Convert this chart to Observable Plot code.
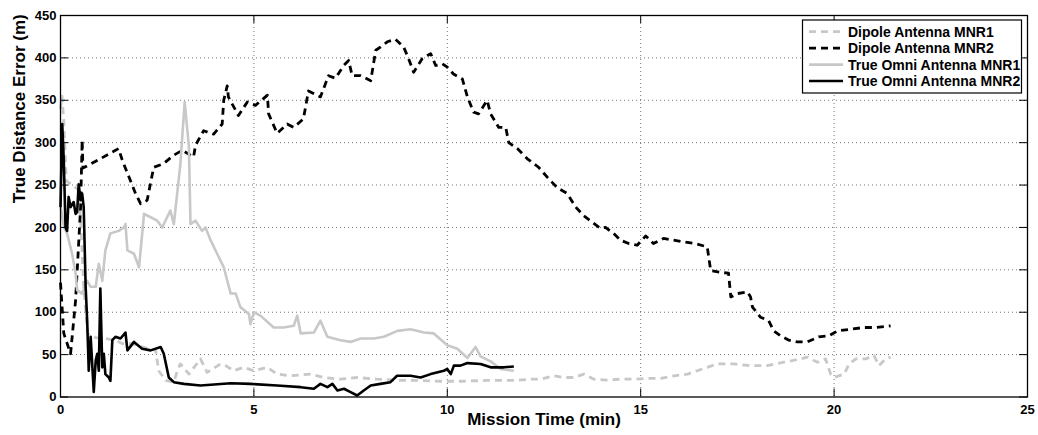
<!DOCTYPE html>
<html><head><meta charset="utf-8">
<script src="https://cdn.jsdelivr.net/npm/d3@7"></script>
<script src="https://cdn.jsdelivr.net/npm/@observablehq/plot@0.6"></script>
<style>html,body{margin:0;padding:0;background:#fff;overflow:hidden}</style>
</head><body><div id="chart"></div>
<script>
// ---- data ----
const xTicks = [0, 5, 10, 15, 20, 25];
const yTicks = [0, 50, 100, 150, 200, 250, 300, 350, 400, 450];
const xLabel = "Mission Time (min)";
const yLabel = "True Distance Error (m)";
const seriesNames = ["Dipole Antenna MNR1", "Dipole Antenna MNR2", "True Omni Antenna MNR1", "True Omni Antenna MNR2"];

const dipoleMNR1Time = [0,0.04,0.09,0.15,0.3,0.45,0.52,0.6,0.7,0.91,1.16,1.42,1.59,1.85,2.11,2.46,2.54,2.72,2.93,3.02,3.10,3.32,3.62,3.79,4.14,4.27,4.48,4.74,5.0,5.35,5.6,5.95,6.47,6.81,7.24,7.67,8.19,8.79,9.23,9.83,10.34,11.03,11.72,12.15,12.41,12.76,13.02,13.27,13.53,13.79,14.14,14.48,14.83,15.17,15.52,15.86,16.21,16.46,16.72,16.98,17.41,17.84,18.27,18.70,19.14,19.31,19.57,19.78,19.91,20.0,20.26,20.39,20.56,20.82,21.03,21.16,21.33,21.46];
const dipoleMNR1Error = [340,355,320,255,250,245,210,130,75,70,69,67,63,63,59,55,31,19.5,17.5,31,39,27,45,29,39,37,31,35,31,35,27,25,27,23,21,23,21,19.5,19.5,18.6,18.6,19.5,19.5,21,21,25,23,23,27,21,20,21,21,22,22,25,27,31,35,39,39,37,37,41,45,47,41,45,27,23,27,39,45,45,49,37,45,47];

const dipoleMNR2Time = [0,0.085,0.26,0.39,0.52,0.56,0.58,0.91,1.50,1.60,1.94,2.07,2.24,2.41,2.66,2.92,3.15,3.44,3.49,3.70,3.96,4.18,4.22,4.31,4.34,4.60,4.83,5.04,5.35,5.38,5.60,5.86,6.03,6.28,6.41,6.72,6.93,7.11,7.32,7.45,7.54,7.76,8.02,8.15,8.28,8.45,8.66,8.87,9.00,9.13,9.35,9.57,9.70,9.87,10.00,10.16,10.39,10.52,10.68,10.81,11.03,11.12,11.33,11.51,11.59,11.81,12.07,12.36,12.59,12.84,13.10,13.32,13.52,13.78,13.96,14.09,14.30,14.48,14.69,14.91,15.13,15.33,15.59,15.85,16.11,16.42,16.72,16.81,17.07,17.27,17.33,17.50,17.76,17.84,17.89,18.10,18.31,18.44,18.62,18.83,19.05,19.31,19.60,19.86,20.09,20.43,20.77,21.08,21.46];
const dipoleMNR2Error = [135,75,51,114,224,303,270,278,293,279,240,228,232,271,275,285,291,283,297,314,310,322,350,367,354,332,348,344,356,334,311,322,318,328,361,354,379,376,391,397,379,379,373,409,413,419,422,413,399,383,399,405,391,393,389,381,375,354,336,334,350,334,318,318,300,293,281,271,259,247,240,224,214,205,199,200,193,185,181,179,190,181,187,185,183,181,177,149,147,146,118,122,124,118,106,94,90,78,72,67,65,65,71,72,78,80,82,82,84];

const omniMNR1Time = [0,0.04,0.09,0.17,0.30,0.39,0.43,0.56,0.69,0.78,0.91,0.99,1.08,1.16,1.29,1.51,1.64,1.68,1.73,1.90,2.03,2.16,2.33,2.50,2.63,2.84,2.93,3.10,3.21,3.32,3.36,3.49,3.66,3.75,3.88,4.05,4.22,4.40,4.53,4.65,4.87,4.91,5.0,5.17,5.51,5.77,6.03,6.12,6.21,6.55,6.72,6.90,7.24,7.50,7.76,8.10,8.36,8.71,9.05,9.40,9.65,10.0,10.26,10.52,10.73,10.86,11.12,11.38,11.72];
const omniMNR1Error = [225,215,200,193,169,146,126,122,137,130,130,157,137,173,193,196,200,204,173,169,153,216,212,208,200,220,204,275,348,295,204,208,196,200,185,169,153,122,122,106,98,86,100,96,82,82,84,96,75,76,90,71,67,65,69,69,71,78,80,76,75,61,57,46,59,48,42,33,31];

const omniMNR2Time = [0,0.045,0.085,0.13,0.17,0.21,0.26,0.34,0.39,0.43,0.47,0.52,0.56,0.60,0.65,0.69,0.73,0.78,0.86,0.91,0.95,0.99,1.03,1.08,1.12,1.16,1.25,1.29,1.34,1.42,1.55,1.68,1.73,1.90,2.11,2.33,2.59,2.67,2.80,2.93,3.19,3.62,4.40,4.91,5.6,6.21,6.55,6.72,6.90,7.03,7.16,7.33,7.50,7.67,7.84,8.02,8.27,8.53,8.70,9.05,9.31,9.57,9.91,10.0,10.09,10.17,10.34,10.52,10.86,11.12,11.46,11.72];
const omniMNR2Error = [224,322,279,200,196,236,224,230,216,218,251,232,240,224,130,90,31,71,6,43,51,31,128,35,51,27,23,19,67,71,69,76,55,65,57,55,59,51,23,17.5,15.5,13.5,16.3,15.5,13.5,11.6,9.7,15.5,11.6,15.5,7.7,9.7,5.7,1.8,7.7,13.5,15.5,17.5,25,25,23,27,31,33,27,37,37,40,39,35,35,36];

// ---- styles ----
const seriesStyle = [
  {stroke: "#c8c8c8", dash: "7,5", width: 2.8},
  {stroke: "#000000", dash: "7,5", width: 2.8},
  {stroke: "#c8c8c8", dash: null, width: 2.6},
  {stroke: "#000000", dash: null, width: 2.6}
];
const W = 1038, H = 435;
const M = {left: 60, right: 11, top: 15, bottom: 38.5};
const FONT = "'Liberation Sans', Arial, Helvetica, sans-serif";

const seriesData = [
  [dipoleMNR1Time, dipoleMNR1Error],
  [dipoleMNR2Time, dipoleMNR2Error],
  [omniMNR1Time, omniMNR1Error],
  [omniMNR2Time, omniMNR2Error]
].map(([ts, vs], i) => ts.map((t, j) => ({series: seriesNames[i], t, v: vs[j]})));

const xMax = xTicks[xTicks.length - 1], yMax = yTicks[yTicks.length - 1];
const tickPx = 8;
const tickLenX = tickPx * xMax / (W - M.left - M.right);
const tickLenY = tickPx * yMax / (H - M.top - M.bottom);
const innerX = xTicks.slice(1, -1), innerY = yTicks.slice(1, -1);

const gridStyle = {stroke: "#000", strokeOpacity: 0.55, strokeWidth: 1, strokeDasharray: "1,3"};

const chart = Plot.plot({
  width: W, height: H,
  marginLeft: M.left, marginRight: M.right, marginTop: M.top, marginBottom: M.bottom,
  style: {fontFamily: FONT, fontWeight: "bold", fontSize: "13px", background: "#fff", color: "#000"},
  x: {domain: [0, xMax]},
  y: {domain: [0, yMax]},
  marks: [
    Plot.ruleX(innerX, {x: d => d, ...gridStyle}),
    Plot.ruleY(innerY, {y: d => d, ...gridStyle}),
    ...seriesData.map((rows, i) => Plot.line(rows, {
      x: "t", y: "v", stroke: seriesStyle[i].stroke, strokeWidth: seriesStyle[i].width,
      strokeDasharray: seriesStyle[i].dash, strokeLinejoin: "round", strokeLinecap: "butt"
    })),
    Plot.ruleX(xTicks, {x: d => d, y1: 0, y2: tickLenY, stroke: "#000"}),
    Plot.ruleX(xTicks, {x: d => d, y1: yMax - tickLenY, y2: yMax, stroke: "#000"}),
    Plot.ruleY(yTicks, {y: d => d, x1: 0, x2: tickLenX, stroke: "#000"}),
    Plot.ruleY(yTicks, {y: d => d, x1: xMax - tickLenX, x2: xMax, stroke: "#000"}),
    Plot.frame({stroke: "#000", strokeWidth: 1.3}),
    Plot.axisX(xTicks, {tickSize: 0, tickPadding: 7.5, label: null, fontSize: 13, fontWeight: "bold"}),
    Plot.axisY(yTicks, {tickSize: 0, tickPadding: 4, label: null, fontSize: 13, fontWeight: "bold"}),
    Plot.text([xLabel], {frameAnchor: "bottom", dy: 27.5, fontSize: 17, fontWeight: "bold", text: d => d}),
    Plot.text([yLabel], {frameAnchor: "left", rotate: -90, dx: -41, dy: -3, fontSize: 17, fontWeight: "bold", text: d => d})
  ]
});

// ---- legend (inside plot, top-right) ----
const svg = d3.select(chart);
const lg = svg.append("g").attr("class", "legend").attr("text-anchor", "start");
const box = {x: 802.5, y: 20, w: 219, h: 73};
lg.append("rect").attr("x", box.x).attr("y", box.y).attr("width", box.w).attr("height", box.h)
  .attr("fill", "#fff").attr("stroke", "#000").attr("stroke-width", 1.2);
const clip = svg.append("defs").append("clipPath").attr("id", "lgclip");
clip.append("rect").attr("x", box.x).attr("y", box.y).attr("width", box.w - 0.6).attr("height", box.h);
seriesNames.forEach((name, i) => {
  const cy = 31.7 + i * 16.45;
  lg.append("line").attr("x1", 809).attr("x2", 843).attr("y1", cy).attr("y2", cy)
    .attr("stroke", seriesStyle[i].stroke).attr("stroke-width", seriesStyle[i].width)
    .attr("stroke-dasharray", seriesStyle[i].dash);
  lg.append("text").attr("x", 848).attr("y", cy).attr("dy", "0.36em")
    .attr("text-anchor", "start")
    .attr("font-family", FONT).attr("font-weight", "bold").attr("font-size", 14)
    .attr("clip-path", "url(#lgclip)").attr("fill", "#000").text(name);
});

document.getElementById("chart").appendChild(chart);
</script>
</body></html>
